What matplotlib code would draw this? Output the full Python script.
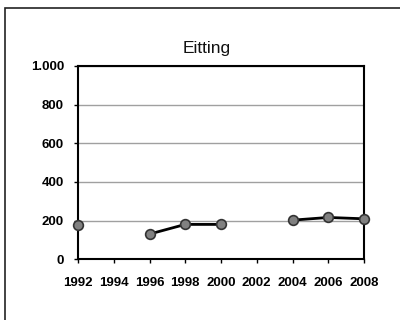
import numpy as np
import matplotlib
matplotlib.use("Agg")
import matplotlib.pyplot as plt
from matplotlib.patches import Rectangle
from matplotlib.ticker import FuncFormatter

years = [1992, 1994, 1996, 1998, 2000, 2002, 2004, 2006, 2008]
values = [176, np.nan, 130, 180, 180, np.nan, 202, 216, 209]
yticks = [0, 200, 400, 600, 800, 1000]

plt.rcParams['font.family'] = ['Liberation Sans', 'DejaVu Sans']

fig = plt.figure(figsize=(4, 3.2), dpi=100)
# chart frame (only left and top edges visible in the scan)
fig.patches.append(Rectangle((0.012, -0.05), 1.2, 1.025, transform=fig.transFigure,
                             fill=False, edgecolor='#222222', linewidth=1.2))

ax = fig.add_axes([0.195, 0.19, 0.715, 0.604])
ax.plot(years, values, color='black', linewidth=2, marker='o', markersize=7,
        markerfacecolor='#808080', markeredgecolor='#333333', markeredgewidth=1.2,
        clip_on=False, zorder=3)

ax.set_xlim(1992, 2008)
ax.set_ylim(0, 1000)
ax.set_xticks(years)
ax.set_yticks(yticks)
ax.yaxis.set_major_formatter(FuncFormatter(lambda v, p: f"{int(v):,}".replace(',', '.')))
ax.grid(axis='y', color='#a0a0a0', linewidth=1)
ax.set_axisbelow(True)
for s in ax.spines.values():
    s.set_linewidth(1.5)
    s.set_color('black')
ax.tick_params(direction='out', length=3, width=1, labelsize=9.5)
ax.tick_params(axis='x', pad=10)
ax.tick_params(axis='y', pad=7)
for lab in ax.get_xticklabels() + ax.get_yticklabels():
    lab.set_fontweight('bold')
ax.set_title('Eitting', fontsize=12.5, pad=9, x=0.45, color='#111111')

fig.savefig('out.png', dpi=100)
